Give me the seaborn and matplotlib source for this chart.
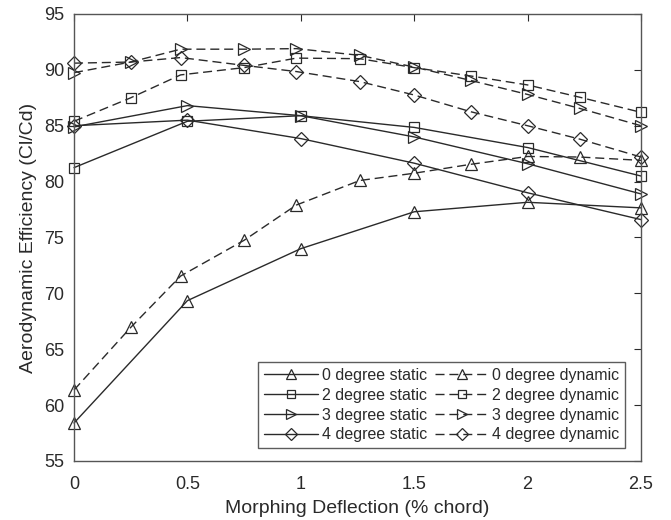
import matplotlib
matplotlib.use("Agg")
import matplotlib.pyplot as plt
import seaborn as sns
import pandas as pd

# Morphing deflection positions (% chord)
x_static = [0, 0.5, 1.0, 1.5, 2.0, 2.5]
x_dynamic = [0, 0.25, 0.47, 0.75, 0.98, 1.26, 1.5, 1.75, 2.0, 2.23, 2.5]

# Aerodynamic efficiency Cl/Cd, static morphing
static_0 = [58.4, 69.35, 74.0, 77.3, 78.15, 77.65]
static_2 = [81.25, 85.4, 85.9, 84.85, 83.05, 80.5]
static_3 = [84.9, 86.8, 85.9, 84.0, 81.6, 78.9]
static_4 = [85.0, 85.5, 83.85, 81.65, 79.0, 76.6]

# Aerodynamic efficiency Cl/Cd, dynamic morphing
dynamic_0 = [61.35, 66.95, 71.55, 74.75, 77.9, 80.1, 80.75, 81.55, 82.25, 82.2, 81.9]
dynamic_2 = [85.4, 87.5, 89.55, 90.2, 91.05, 91.0, 90.2, 89.45, 88.65, 87.55, 86.2]
dynamic_3 = [89.75, 90.7, 91.85, 91.85, 91.9, 91.3, 90.25, 89.05, 87.8, 86.55, 85.0]
dynamic_4 = [90.6, 90.7, 91.1, 90.4, 89.85, 88.95, 87.75, 86.25, 85.0, 83.8, 82.2]

angles = ["0", "2", "3", "4"]
static_series = [static_0, static_2, static_3, static_4]
dynamic_series = [dynamic_0, dynamic_2, dynamic_3, dynamic_4]
marker_for = {"0": "^", "2": "s", "3": ">", "4": "D"}
marker_size = {"0": 9, "2": 7.5, "3": 9, "4": 7}

x_ticks = [0, 0.5, 1, 1.5, 2, 2.5]
x_tick_labels = ["0", "0.5", "1", "1.5", "2", "2.5"]
y_ticks = [55, 60, 65, 70, 75, 80, 85, 90, 95]

rows = []
for ang, vals in zip(angles, static_series):
    for xv, yv in zip(x_static, vals):
        rows.append({"x": xv, "y": yv, "angle": ang, "mode": "static"})
for ang, vals in zip(angles, dynamic_series):
    for xv, yv in zip(x_dynamic, vals):
        rows.append({"x": xv, "y": yv, "angle": ang, "mode": "dynamic"})
df = pd.DataFrame(rows)

sns.set_theme(style="white")
plt.rcParams["font.family"] = ["Liberation Sans", "DejaVu Sans"]

ink = "#2a2a2a"
fig = plt.figure(figsize=(6.71, 5.2), dpi=100)
ax = fig.add_axes([0.1103, 0.1135, 0.845, 0.8596])

handles = []
labels = []
for mode, dash in [("static", "-"), ("dynamic", (0, (6.5, 3.5)))]:
    for ang in angles:
        sub = df[(df["angle"] == ang) & (df["mode"] == mode)]
        sns.lineplot(data=sub, x="x", y="y", ax=ax, color=ink, linewidth=1.0,
                     marker=marker_for[ang], markersize=marker_size[ang],
                     markerfacecolor="none", markeredgecolor=ink,
                     markeredgewidth=0.9, estimator=None, sort=False)
        line = ax.lines[-1]
        line.set_linestyle(dash)
        line.set_clip_on(False)
        handles.append(line)
        labels.append(f"{ang} degree {mode}")

ax.set_xlim(0, 2.5)
ax.set_ylim(55, 95)
ax.set_xticks(x_ticks)
ax.set_xticklabels(x_tick_labels)
ax.set_yticks(y_ticks)
ax.tick_params(direction="in", length=5, width=0.8, top=True, right=True,
               labelsize=13, colors=ink)
ax.tick_params(axis="x", pad=11)
ax.tick_params(axis="y", pad=7)
for sp in ax.spines.values():
    sp.set_visible(True)
    sp.set_color("#555555")
    sp.set_linewidth(1.0)

ax.set_xlabel("Morphing Deflection (% chord)", fontsize=14, color=ink, labelpad=5)
ax.set_ylabel("Aerodynamic Efficiency (Cl/Cd)", fontsize=14, color=ink, labelpad=5)

leg = ax.legend(handles, labels, ncol=2, loc="lower right",
                bbox_to_anchor=(0.972, 0.029), borderaxespad=0,
                fontsize=11.5, frameon=True, fancybox=False, markerscale=0.85,
                handlelength=3.4, handletextpad=0.2, columnspacing=0.5,
                labelspacing=0.3, borderpad=0.35)
leg.get_frame().set_edgecolor("#333333")
leg.get_frame().set_linewidth(1.0)
for t in leg.get_texts():
    t.set_color(ink)

fig.savefig("out.png", dpi=100)
